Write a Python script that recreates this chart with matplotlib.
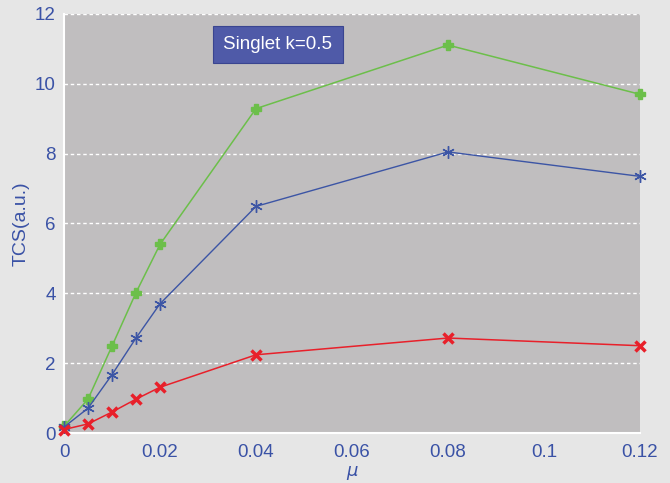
import numpy as np
import matplotlib.pyplot as plt

plt.rcParams['font.family'] = ['Liberation Sans', 'DejaVu Sans']

mu = [0, 0.005, 0.01, 0.015, 0.02, 0.04, 0.08, 0.12]
tcs_green = [0.19, 0.97, 2.49, 4.02, 5.40, 9.29, 11.11, 9.70]
tcs_blue = [0.17, 0.71, 1.67, 2.72, 3.70, 6.49, 8.05, 7.35]
tcs_red = [0.10, 0.26, 0.60, 0.97, 1.31, 2.24, 2.72, 2.50]

txt_blue = '#3a52a6'

fig = plt.figure(figsize=(6.7, 4.83), dpi=100, facecolor='#e6e6e6')
ax = fig.add_axes([64/670, 50/483, 576/670, 419/483])
ax.set_facecolor('#c0bebf')

ax.plot(mu, tcs_green, color='#6cbf4a', lw=1.1, marker='P', ms=7, mec='#6cbf4a', mfc='#6cbf4a', clip_on=False, zorder=3)
ax.plot(mu, tcs_blue, color='#3c55a5', lw=1.0, marker=(6, 2, 0), ms=9, mew=1.0, clip_on=False, zorder=3)
ax.plot(mu, tcs_red, color='#e8202a', lw=1.1, marker='x', ms=7, mew=2.5, clip_on=False, zorder=3)

ax.set_xlim(0, 0.12)
ax.set_ylim(0, 12)
ax.set_xticks([0, 0.02, 0.04, 0.06, 0.08, 0.1, 0.12])
ax.set_xticklabels(['0', '0.02', '0.04', '0.06', '0.08', '0.1', '0.12'])
ax.set_yticks([0, 2, 4, 6, 8, 10, 12])
ax.yaxis.grid(True, color='white', ls=(0, (2.5, 2)), lw=1.0)
ax.set_axisbelow(True)
for s in ['top', 'right']:
    ax.spines[s].set_visible(False)
for s in ['left', 'bottom']:
    ax.spines[s].set_color('white')
    ax.spines[s].set_linewidth(1.5)
ax.tick_params(colors=txt_blue, labelsize=13.5, length=0)
ax.tick_params(axis='x', pad=8)
ax.tick_params(axis='y', pad=6)

ax.set_ylabel('TCS(a.u.)', color=txt_blue, fontsize=14, labelpad=4)
ax.set_xlabel(r'$\mu$', color=txt_blue, fontsize=13, labelpad=2)

ax.text(0.3715, 0.927, 'Singlet k=0.5', transform=ax.transAxes, ha='center', va='center',
        color='white', fontsize=13.5,
        bbox=dict(boxstyle='square,pad=0.55', fc='#4f5aa8', ec='#3a4590', lw=0.8))

fig.savefig('out.png', dpi=100, facecolor=fig.get_facecolor())
